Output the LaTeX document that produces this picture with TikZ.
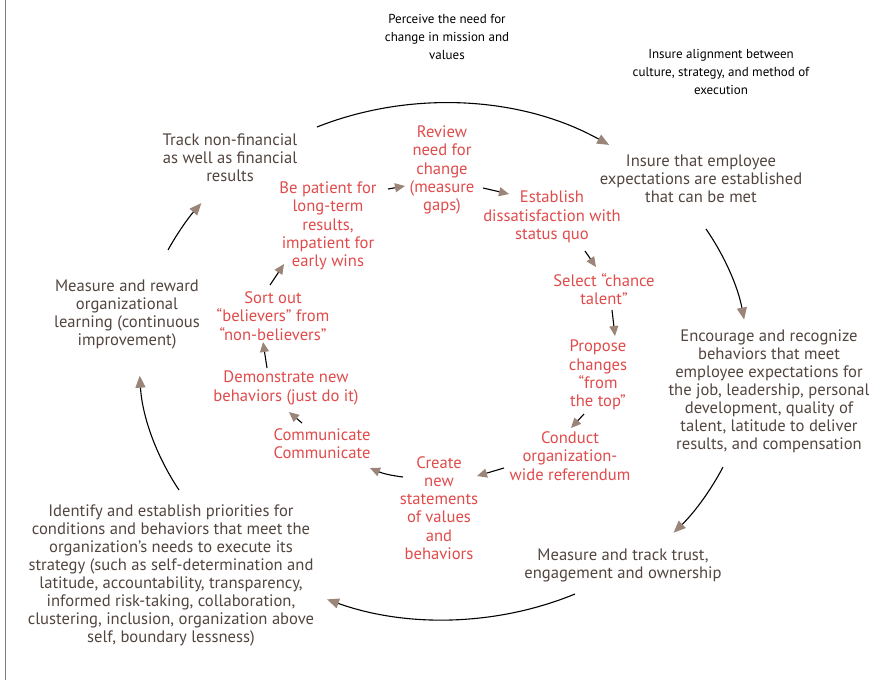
\documentclass[tikz,border=0pt]{standalone}
\usepackage{fontspec}
\setmainfont{PT Sans}
\usetikzlibrary{arrows.meta}
\definecolor{txtgray}{HTML}{524540}
\definecolor{txtred}{HTML}{E04B4B}
\definecolor{arrowc}{HTML}{9B8579}
\definecolor{borderc}{HTML}{808080}
\tikzset{
  gtext/.style={align=center, text=txtgray, font=\fontsize{16.6}{18}\selectfont, inner sep=0pt},
  rtext/.style={align=center, text=txtred, font=\fontsize{16.6}{18.3}\selectfont, inner sep=0pt},
  btext/.style={align=center, text=black, font=\fontsize{13}{18}\selectfont, inner sep=0pt},
  conn/.style={draw=black, line width=1.1pt, -{Triangle[length=12pt,width=10pt,color=arrowc,fill=arrowc]}},
  iconn/.style={draw=black, line width=1.1pt, -{Triangle[length=10pt,width=9pt,color=arrowc,fill=arrowc]}},
  ell/.style={x radius=302, y radius=258}
}
\begin{document}
\begin{tikzpicture}[x=1pt,y=-1pt]
\useasboundingbox (0,0) rectangle (883,680);
\draw[borderc, line width=1pt] (5.5,0) -- (5.5,680);

% top black texts
\node[btext] (perceive) at (447,37) {Perceive the need for\\change in mission and\\values};
\node[btext] (align) at (721,72) {Insure alignment between\\culture, strategy, and method of\\execution};

% outer gray texts
\node[gtext] (track) at (230,158) {Track non-financial\\as well as financial\\results};
\node[gtext] (insure) at (701,179) {Insure that employee\\expectations are established\\that can be met};
\node[gtext] (encourage) at (769,391) {Encourage and recognize\\behaviors that meet\\employee expectations for\\the job, leadership, personal\\development, quality of\\talent, latitude to deliver\\results, and compensation};
\node[gtext] (mtrack) at (623,565) {Measure and track trust,\\engagement and ownership};
\node[gtext] (identify) at (171,575) {Identify and establish priorities for\\conditions and behaviors that meet the\\organization’s needs to execute its\\strategy (such as self-determination and\\latitude, accountability, transparency,\\informed risk-taking, collaboration,\\clustering, inclusion, organization above\\self, boundary lessness)};
\node[gtext] (mreward) at (127,315) {Measure and reward\\organizational\\learning (continuous\\improvement)};

% inner red texts
\node[rtext] (review) at (442,170) {Review\\need for\\change\\(measure\\gaps)};
\node[rtext] (establish) at (552,217) {Establish\\dissatisfaction with\\status quo};
\node[rtext] (select) at (604,289) {Select “chance\\talent”};
\node[rtext] (propose) at (598,375) {Propose\\changes\\“from\\the top”};
\node[rtext] (conduct) at (570,456) {Conduct\\organization-\\wide referendum};
\node[rtext] (create) at (439,508) {Create\\new\\statements\\of values\\and\\behaviors};
\node[rtext] (communicate) at (322,443.5) {Communicate\\Communicate};
\node[rtext] (demonstrate) at (286,388) {Demonstrate new\\behaviors (just do it)};
\node[rtext] (sortout) at (273,316) {Sort out\\“believers” from\\“non-believers”};
\node[rtext] (patient) at (328,226) {Be patient for\\long-term\\results,\\impatient for\\early wins};

% outer cycle connectors (arcs of one ellipse)
\coordinate (o1) at (317,127);
\coordinate (o2) at (706,229);
\coordinate (o3) at (723,467);
\coordinate (o4) at (575,594);
\coordinate (o5) at (179,490);
\coordinate (o6) at (168,250);
\draw[conn] (o1) arc[start angle=-114.9, end angle=-56.9, ell];
\draw[conn] (o2) arc[start angle=-30.5, end angle=-9, ell];
\draw[conn] (o3) arc[start angle=24, end angle=41.4, ell];
\draw[conn] (o4) arc[start angle=64.3, end angle=112.8, ell];
\draw[conn] (o5) arc[start angle=150.3, end angle=177, ell];
\draw[conn] (o6) arc[start angle=205.2, end angle=217.4, ell];

% inner cycle connectors
\coordinate (i1s) at (388,189); \coordinate (i1e) at (405,186);
\coordinate (i2s) at (483,188); \coordinate (i2e) at (509,194);
\coordinate (i3s) at (585,251); \coordinate (i3e) at (596,267);
\coordinate (i4s) at (612,310); \coordinate (i4e) at (615,336);
\coordinate (i5s) at (584,414); \coordinate (i5e) at (571,428);
\coordinate (i6s) at (504,468); \coordinate (i6e) at (477,476);
\coordinate (i7s) at (403,477); \coordinate (i7e) at (370,468);
\coordinate (i8s) at (302,423); \coordinate (i8e) at (289,412);
\coordinate (i9s) at (267,368); \coordinate (i9e) at (263,342);
\coordinate (i10s) at (270,285); \coordinate (i10e) at (284,264);
\draw[iconn] (i1s) -- (i1e);
\draw[iconn] (i2s) -- (i2e);
\draw[iconn] (i3s) -- (i3e);
\draw[iconn] (i4s) -- (i4e);
\draw[iconn] (i5s) -- (i5e);
\draw[iconn] (i6s) -- (i6e);
\draw[iconn] (i7s) to[bend left=8] (i7e);
\draw[iconn] (i8s) -- (i8e);
\draw[iconn] (i9s) -- (i9e);
\draw[iconn] (i10s) -- (i10e);
\end{tikzpicture}
\end{document}
